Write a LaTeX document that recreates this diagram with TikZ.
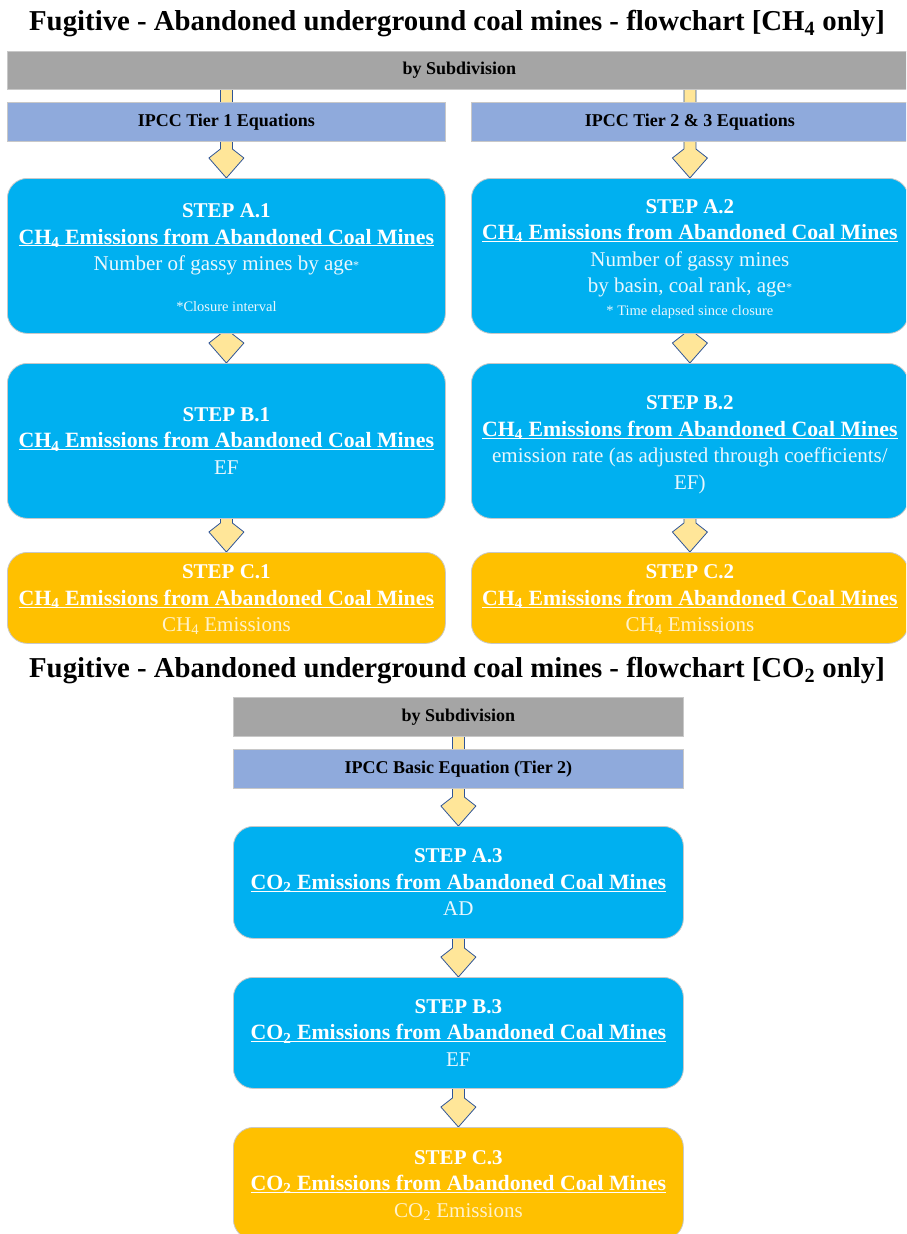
\documentclass[tikz,border=0pt]{standalone}
\usepackage{fontspec}
\setmainfont{Liberation Serif}
\usetikzlibrary{calc,backgrounds}
\definecolor{barGray}{HTML}{A5A5A5}
\definecolor{tierBlue}{HTML}{8FAADC}
\definecolor{stepBlue}{HTML}{00B0F0}
\definecolor{resOrange}{HTML}{FFC000}
\definecolor{arrowFill}{HTML}{FFE699}
\definecolor{arrowLine}{HTML}{2F5597}
\definecolor{boxLine}{HTML}{C8C8C8}
\definecolor{descBlue}{HTML}{EAF7FD}
\definecolor{descOrange}{HTML}{FFF2CC}
\newcommand{\ulbf}[1]{\setbox0=\hbox{\bfseries\fontsize{21.8}{26.5}\selectfont #1}\rlap{\rule[-2.4pt]{\wd0}{1.1pt}}\box0}
\newcommand{\stepline}[2][14pt]{{\rule{0pt}{#1}\bfseries\fontsize{21}{26.5}\selectfont #2}}
\newcommand{\smallast}{\raisebox{1pt}{\fontsize{12}{12}\selectfont *}}
\newcommand{\notefont}{\fontsize{14.5}{15}\selectfont}
\newcommand{\flowarrow}[2]{%
  \draw[farrow] let \p1=(#1.south), \p2=(#2.north) in
    (\x2-6pt,\y1+3pt) -- (\x2-6pt,\y2+29pt) -- (\x2-17.5pt,\y2+20pt) -- (\x2,\y2)
    -- (\x2+17.5pt,\y2+20pt) -- (\x2+6pt,\y2+29pt) -- (\x2+6pt,\y1+3pt) -- cycle;}
\tikzset{
  titlestyle/.style={inner sep=0pt, font=\fontsize{28.8}{32}\selectfont\bfseries},
  bar/.style={draw=boxLine, fill=barGray, line width=0.8pt, anchor=north west, inner sep=0pt,
    font=\fontsize{18}{20}\selectfont\bfseries, text=black},
  tierbar/.style={bar, fill=tierBlue},
  stepbox/.style={draw=boxLine, fill=stepBlue, line width=0.8pt, rounded corners=20pt,
    anchor=north west, inner sep=0pt, align=center, text=white,
    font=\fontsize{21}{26.5}\selectfont},
  resultbox/.style={stepbox, fill=resOrange},
  farrow/.style={draw=arrowLine, fill=arrowFill, line width=0.8pt, line join=miter}
}
\begin{document}
\begin{tikzpicture}[x=1pt,y=-1pt]
\useasboundingbox (0,0) rectangle (906,1234);
\clip (0,0) rectangle (906,1234);
% ---- CH4 section
\node[titlestyle] (t1) at (457,24) {Fugitive - Abandoned underground coal mines - flowchart [CH\textsubscript{4} only]};
\node[bar, minimum width=904pt, minimum height=38pt] (g1) at (7,51) {by Subdivision};
\node[tierbar, minimum width=438pt, minimum height=39pt] (p1) at (7,102) {IPCC Tier 1 Equations};
\node[tierbar, minimum width=437pt, minimum height=39pt] (p2) at (471,102) {IPCC Tier 2 \& 3 Equations};
\node[stepbox, minimum width=438pt, minimum height=155pt] (a1) at (7,178)
  {\stepline[17pt]{STEP A.1}\\ \ulbf{CH\textsubscript{4} Emissions from Abandoned Coal Mines}\\
   {\color{descBlue}Number of gassy mines by age\smallast}\\[14pt]
   {\color{descBlue}\notefont *Closure interval}};
\node[stepbox, minimum width=437pt, minimum height=155pt] (a2) at (471,178)
  {\stepline[20pt]{STEP A.2}\\ \ulbf{CH\textsubscript{4} Emissions from Abandoned Coal Mines}\\
   {\color{descBlue}Number of gassy mines}\\
   {\color{descBlue}by basin, coal rank, age\smallast}\\[-4pt]
   {\color{descBlue}\notefont * Time elapsed since closure}};
\node[stepbox, minimum width=438pt, minimum height=155pt] (b1) at (7,363)
  {\stepline{STEP B.1}\\ \ulbf{CH\textsubscript{4} Emissions from Abandoned Coal Mines}\\
   {\color{descBlue}EF}};
\node[stepbox, minimum width=437pt, minimum height=155pt] (b2) at (471,363)
  {\stepline[22pt]{STEP B.2}\\ \ulbf{CH\textsubscript{4} Emissions from Abandoned Coal Mines}\\
   {\color{descBlue}emission rate (as adjusted through coefficients/}\\
   {\color{descBlue}EF)}};
\node[resultbox, minimum width=438pt, minimum height=91pt] (c1) at (7,552)
  {\stepline[18pt]{STEP C.1}\\ \ulbf{CH\textsubscript{4} Emissions from Abandoned Coal Mines}\\
   {\color{descOrange}CH\textsubscript{4} Emissions}};
\node[resultbox, minimum width=437pt, minimum height=91pt] (c2) at (471,552)
  {\stepline[18pt]{STEP C.2}\\ \ulbf{CH\textsubscript{4} Emissions from Abandoned Coal Mines}\\
   {\color{descOrange}CH\textsubscript{4} Emissions}};
% ---- CO2 section
\node[titlestyle] (t2) at (457,671) {Fugitive - Abandoned underground coal mines - flowchart [CO\textsubscript{2} only]};
\node[bar, minimum width=450pt, minimum height=39pt] (g3) at (233,697) {by Subdivision};
\node[tierbar, minimum width=450pt, minimum height=39pt] (p3) at (233,749) {IPCC Basic Equation (Tier 2)};
\node[stepbox, minimum width=450pt, minimum height=112pt] (a3) at (233,826)
  {\stepline{STEP A.3}\\ \ulbf{CO\textsubscript{2} Emissions from Abandoned Coal Mines}\\
   {\color{descBlue}AD}};
\node[stepbox, minimum width=450pt, minimum height=111pt] (b3) at (233,977)
  {\stepline{STEP B.3}\\ \ulbf{CO\textsubscript{2} Emissions from Abandoned Coal Mines}\\
   {\color{descBlue}EF}};
\node[resultbox, minimum width=450pt, minimum height=112pt] (c3) at (233,1127)
  {\stepline[18pt]{STEP C.3}\\ \ulbf{CO\textsubscript{2} Emissions from Abandoned Coal Mines}\\
   {\color{descOrange}CO\textsubscript{2} Emissions}};
% ---- arrows behind boxes
\begin{pgfonlayer}{background}
\flowarrow{g1}{a1}
\flowarrow{g1}{a2}
\flowarrow{a1}{b1}
\flowarrow{b1}{c1}
\flowarrow{a2}{b2}
\flowarrow{b2}{c2}
\flowarrow{g3}{a3}
\flowarrow{a3}{b3}
\flowarrow{b3}{c3}
\end{pgfonlayer}
\end{tikzpicture}
\end{document}
